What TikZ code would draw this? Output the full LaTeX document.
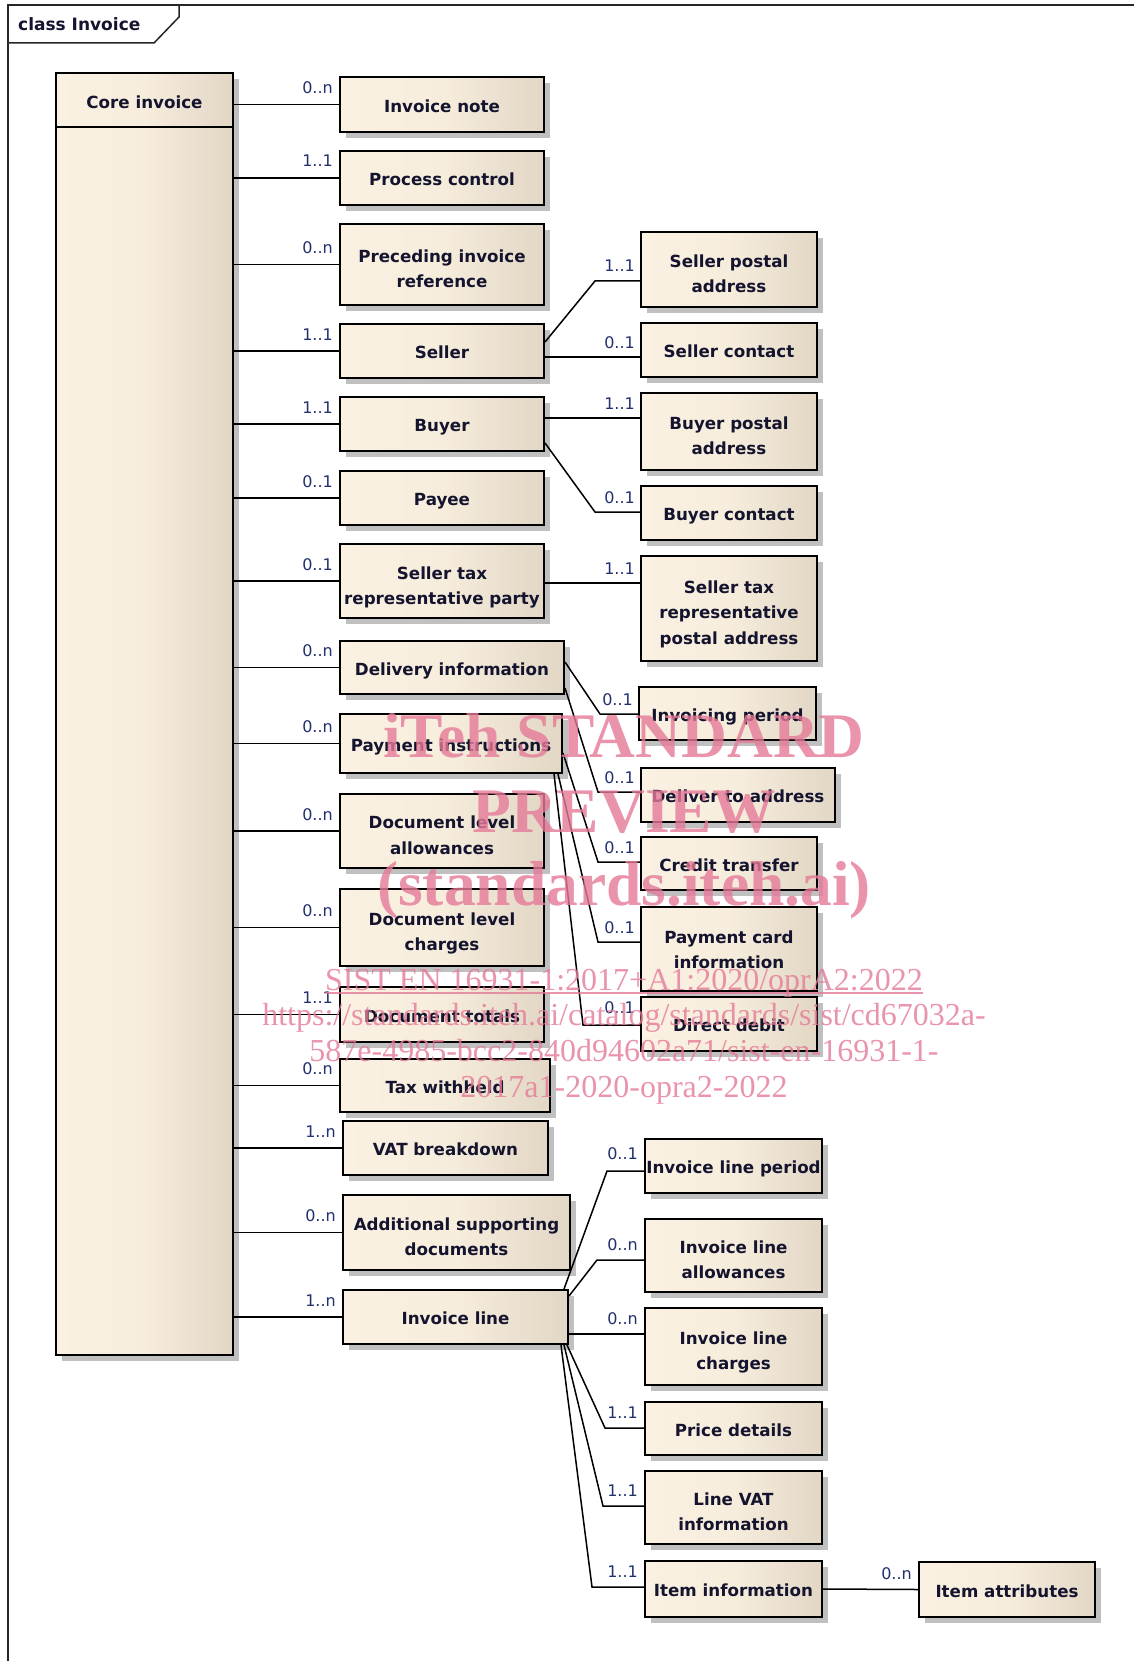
\documentclass[tikz,border=0pt]{standalone}
\usepackage{fontspec}
\setmainfont{DejaVu Sans}
\newfontfamily\wmfont{Liberation Serif}
\usetikzlibrary{shadows,calc}
\definecolor{cream}{HTML}{FBF1E2}
\definecolor{creammid}{HTML}{F7EDDD}
\definecolor{beige}{HTML}{E2D7C5}
\definecolor{shadowgray}{HTML}{C0C0C0}
\definecolor{txtcol}{HTML}{14142E}
\definecolor{multcol}{HTML}{22306E}
\definecolor{wmcol}{HTML}{E57A98}
\newcommand\bx[7][-2.5pt]{\node[cls, minimum width={(#5)-(#3)}, minimum height={(#6)-(#4)}] (#2) at ({((#3)+(#5))/2},{((#4)+(#6))/2}) {\raisebox{#1}[\height][\depth]{\begin{tabular}{@{}c@{}}#7\end{tabular}}};}
\begin{document}
\begin{tikzpicture}[x=1pt,y=-1pt,
  cls/.style={draw=black, line width=2pt, left color=cream, right color=beige, middle color=creammid,
    drop shadow={shadow xshift=6pt, shadow yshift=-6pt, fill=shadowgray, opacity=1},
    text=txtcol, font=\fontsize{16.7}{25.5}\selectfont\bfseries, align=center, inner sep=0pt},
  conn/.style={line width=1.5pt, black},
  mult/.style={text=multcol, font=\fontsize{16}{16}\selectfont, inner sep=0pt, anchor=base east},
  wmbig/.style={text=wmcol, text opacity=0.8, font=\wmfont\fontsize{63.5}{63.5}\selectfont\bfseries, inner sep=0pt, anchor=base},
  wmsmall/.style={text=wmcol, text opacity=0.8, font=\wmfont\fontsize{32}{32}\selectfont, inner sep=0pt, anchor=base},
]
\fill[white] (0,0) rectangle (1134,1661);
\useasboundingbox (0,0) rectangle (1134,1661);

% frame
\draw[line width=2pt, black!85] (8,1661) -- (8,5) -- (1134,5);
\draw[line width=1.5pt, black!85] (8,43) -- (154,43) -- (179,17) -- (179,5);
\node[anchor=base west, inner sep=0pt, text=txtcol, font=\fontsize{17}{17}\selectfont\bfseries] (title) at (18,31) {class Invoice};

% core
\node[cls, minimum width=177, minimum height=1282] (core) at (144.5,714) {};
\node[inner sep=0pt, text=txtcol, font=\fontsize{16.7}{25.5}\selectfont\bfseries, anchor=base] (coret) at (144.5,109) {Core invoice};
\draw[line width=2pt] (core.west |- 0,127) -- (core.east |- 0,127);

% middle column
\bx{note}{340}{77}{544}{132}{Invoice note}
\bx{proc}{340}{151}{544}{205}{Process control}
\bx[-5.5pt]{prec}{340}{224}{544}{305}{Preceding invoice\\reference}
\bx{seller}{340}{324}{544}{378}{Seller}
\bx{buyer}{340}{397}{544}{451}{Buyer}
\bx{payee}{340}{471}{544}{525}{Payee}
\bx[-6pt]{strp}{340}{544}{544}{618}{Seller tax\\representative party}
\bx{deliv}{340}{641}{564}{694}{Delivery information}
\bx{pay}{340}{714}{562}{773}{Payment instructions}
\bx[-5.5pt]{dla}{340}{794}{544}{868}{Document level\\allowances}
\bx[-5.5pt]{dlc}{340}{889}{544}{966}{Document level\\charges}
\bx{dtot}{340}{987}{544}{1042}{Document totals}
\bx{tax}{340}{1059}{550}{1112}{Tax withheld}
\bx{vat}{343}{1121}{548}{1175}{VAT breakdown}
\bx[-5.5pt]{asd}{343}{1195}{570}{1270}{Additional supporting\\documents}
\bx{il}{343}{1290}{568}{1344}{Invoice line}

% right column
\bx[-5.5pt]{spa}{641}{232}{817}{307}{Seller postal\\address}
\bx{sc}{641}{323}{817}{377}{Seller contact}
\bx[-5.5pt]{bpa}{641}{393}{817}{470}{Buyer postal\\address}
\bx{bc}{641}{486}{817}{540}{Buyer contact}
\bx[-5pt]{strpa}{641}{556}{817}{661}{Seller tax\\representative\\postal address}
\bx{ip}{639}{687}{816}{740}{Invoicing period}
\bx{dta}{641}{768}{835}{822}{Deliver to address}
\bx{ct}{641}{837}{817}{890}{Credit transfer}
\bx[-2pt]{pci}{641}{907}{817}{991}{Payment card\\information}
\bx{dd}{641}{997}{817}{1051}{Direct debit}
\bx{ilp}{645}{1139}{822}{1193}{Invoice line period}
\bx[-5.5pt]{ila}{645}{1219}{822}{1292}{Invoice line\\allowances}
\bx[-5.5pt]{ilc}{645}{1308}{822}{1385}{Invoice line\\charges}
\bx{pd}{645}{1402}{822}{1455}{Price details}
\bx[-5.5pt]{lvi}{645}{1471}{822}{1544}{Line VAT\\information}
\bx{ii}{645}{1561}{822}{1617}{Item information}
\bx{ia}{919}{1562}{1095}{1617}{Item attributes}

% core connectors
\foreach \n/\m in {note/0..n, proc/1..1, prec/0..n, seller/1..1, buyer/1..1, payee/0..1,
  strp/0..1, deliv/0..n, pay/0..n, dla/0..n, dlc/0..n, dtot/1..1, tax/0..n, vat/1..n, asd/0..n, il/1..n}{
  \draw[conn] (core.east |- \n.west) -- (\n.west);
  \node[mult] at ($(\n.west)+(-6,-11)$) {\m};
}

% bend coordinates
\coordinate (b1) at (595,281);
\coordinate (b2) at (595,512);
\coordinate (b3) at (600,714);
\coordinate (b4) at (598,792);
\coordinate (b5) at (598,862);
\coordinate (b6) at (598,942);
\coordinate (b7) at (583,1025);
\coordinate (b8) at (607,1171);
\coordinate (b9) at (597,1260);
\coordinate (b10) at (605,1428);
\coordinate (b11) at (603,1506);
\coordinate (b12) at (592,1587);
\coordinate (h1) at (0,357);
\coordinate (h2) at (0,418);
\coordinate (h3) at (0,583);
\coordinate (h4) at (0,1334);

% seller / buyer children
\draw[conn] (seller.east |- 0,342) -- (b1) -- (b1 -| spa.west);
\node[mult] at ($(b1 -| spa.west)+(-5,-9)$) {1..1};
\draw[conn] (seller.east |- h1) -- (sc.west |- h1);
\node[mult] at ($(sc.west |- h1)+(-5,-9)$) {0..1};
\draw[conn] (buyer.east |- h2) -- (bpa.west |- h2);
\node[mult] at ($(bpa.west |- h2)+(-5,-9)$) {1..1};
\draw[conn] (buyer.east |- 0,443) -- (b2) -- (b2 -| bc.west);
\node[mult] at ($(b2 -| bc.west)+(-5,-9)$) {0..1};
\draw[conn] (strp.east |- h3) -- (strpa.west |- h3);
\node[mult] at ($(strpa.west |- h3)+(-5,-9)$) {1..1};

% delivery / payment children
\draw[conn] (deliv.east |- 0,662) -- (b3) -- (b3 -| ip.west);
\node[mult] at ($(b3 -| ip.west)+(-5,-9)$) {0..1};
\draw[conn] (deliv.east |- 0,688) -- (b4) -- (b4 -| dta.west);
\node[mult] at ($(b4 -| dta.west)+(-5,-9)$) {0..1};
\draw[conn] (pay.east |- 0,753) -- (b5) -- (b5 -| ct.west);
\node[mult] at ($(b5 -| ct.west)+(-5,-9)$) {0..1};
\draw[conn] ($(pay.south east)+(-5,0)$) -- (b6) -- (b6 -| pci.west);
\node[mult] at ($(b6 -| pci.west)+(-5,-9)$) {0..1};
\draw[conn] ($(pay.south east)+(-9,0)$) -- (b7) -- (b7 -| dd.west);
\node[mult] at ($(b7 -| dd.west)+(-5,-12)$) {0..1};

% invoice line children
\draw[conn] ($(il.north east)+(-5,0)$) -- (b8) -- (b8 -| ilp.west);
\node[mult] at ($(b8 -| ilp.west)+(-6,-12)$) {0..1};
\draw[conn] (il.east |- 0,1296) -- (b9) -- (b9 -| ila.west);
\node[mult] at ($(b9 -| ila.west)+(-6,-10)$) {0..n};
\draw[conn] (il.east |- h4) -- (ilc.west |- h4);
\node[mult] at ($(ilc.west |- h4)+(-6,-10)$) {0..n};
\draw[conn] ($(il.south east)+(-2,0)$) -- (b10) -- (b10 -| pd.west);
\node[mult] at ($(b10 -| pd.west)+(-6,-10)$) {1..1};
\draw[conn] ($(il.south east)+(-5,0)$) -- (b11) -- (b11 -| lvi.west);
\node[mult] at ($(b11 -| lvi.west)+(-6,-10)$) {1..1};
\draw[conn] ($(il.south east)+(-8,0)$) -- (b12) -- (b12 -| ii.west);
\node[mult] at ($(b12 -| ii.west)+(-6,-10)$) {1..1};
\draw[conn] (ii.east) -- (ia.west);
\node[mult] at ($(ia.west)+(-6,-10)$) {0..n};

% watermark
\node[wmbig] (wm1) at (624,757) {iTeh STANDARD};
\node[wmbig] (wm2) at (624,832) {PREVIEW};
\node[wmbig] (wm3) at (624,905) {(standards.iteh.ai)};
\node[wmsmall] (wm4) at (624,990) {SIST EN 16931-1:2017+A1:2020/oprA2:2022};
\draw[wmcol, opacity=0.8, line width=1.5pt] ($(wm4.base west)+(0,3)$) -- ($(wm4.base east)+(0,3)$);
\node[wmsmall] (wm5) at (624,1025) {https://standards.iteh.ai/catalog/standards/sist/cd67032a-};
\node[wmsmall] (wm6) at (624,1061) {587e-4985-bcc2-840d94602a71/sist-en-16931-1-};
\node[wmsmall] (wm7) at (624,1097) {2017a1-2020-opra2-2022};
\end{tikzpicture}
\end{document}
